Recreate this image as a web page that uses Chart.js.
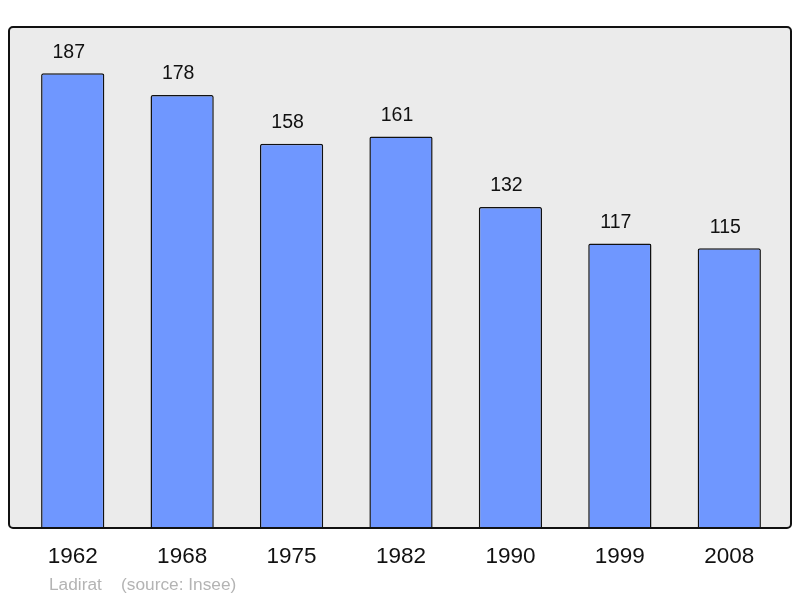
<!DOCTYPE html>
<html lang="fr">
<head>
<meta charset="UTF-8">
<title>Ladirat population</title>
<script src="https://cdn.jsdelivr.net/npm/chart.js"></script>
<style>
  html, body { margin: 0; padding: 0; background: #fff; }
  #wrap { width: 800px; height: 598px; position: relative; }
</style>
</head>
<body>
<div id="wrap"><canvas id="pop" width="800" height="598"></canvas></div>
<script>
  const years = ['1962', '1968', '1975', '1982', '1990', '1999', '2008'];
  const population = [187, 178, 158, 161, 132, 117, 115];
  const sourceText = 'Ladirat    (source: Insee)';

  // grey frame behind the bars, plus value labels and year labels
  const decor = {
    id: 'decor',
    beforeDatasetsDraw(chart) {
      const { ctx, chartArea: a } = chart;
      const x0 = a.left - 9, x1 = a.right + 7, y0 = a.top, y1 = a.bottom;
      ctx.save();
      ctx.beginPath();
      ctx.roundRect(x0, y0, x1 - x0, y1 - y0, 4);
      ctx.fillStyle = '#ebebeb';
      ctx.fill();
      ctx.restore();
    },
    afterDatasetsDraw(chart) {
      const { ctx, chartArea: a, scales } = chart;
      const x0 = a.left - 9, x1 = a.right + 7, y0 = a.top, y1 = a.bottom;
      ctx.save();
      ctx.beginPath();
      ctx.roundRect(x0, y0, x1 - x0, y1 - y0, 4);
      ctx.lineWidth = 2;
      ctx.strokeStyle = '#111';
      ctx.stroke();

      ctx.fillStyle = '#111';
      ctx.textAlign = 'center';
      ctx.textBaseline = 'middle';
      ctx.font = '19.5px "Liberation Sans", Arial, sans-serif';
      population.forEach((v, i) => {
        const x = scales.x.getPixelForValue(i);
        const y = scales.y.getPixelForValue(v);
        ctx.fillText(String(v), x - 4, y - 21);
      });

      ctx.font = '22.5px "Liberation Sans", Arial, sans-serif';
      years.forEach((t, i) => {
        ctx.fillText(t, scales.x.getPixelForValue(i), y1 + 29);
      });

      ctx.fillStyle = '#b4b4b4';
      ctx.textAlign = 'left';
      ctx.font = '17.3px "Liberation Sans", Arial, sans-serif';
      ctx.fillText(sourceText, 49, y1 + 57);
      ctx.restore();
    }
  };

  new Chart(document.getElementById('pop').getContext('2d'), {
    type: 'bar',
    data: {
      labels: years,
      datasets: [{
        data: population,
        backgroundColor: '#6f97ff',
        borderColor: '#111',
        borderWidth: 1.5,
        borderRadius: 2,
        borderSkipped: 'bottom',
        barPercentage: 0.578,
        categoryPercentage: 1
      }]
    },
    options: {
      responsive: false,
      animation: false,
      layout: { padding: { left: 18, right: 16, top: 27, bottom: 70 } },
      plugins: { legend: { display: false }, tooltip: { enabled: false } },
      scales: {
        x: { display: false },
        y: { display: false, min: 0, max: 206 }
      }
    },
    plugins: [decor]
  });
</script>
</body>
</html>
